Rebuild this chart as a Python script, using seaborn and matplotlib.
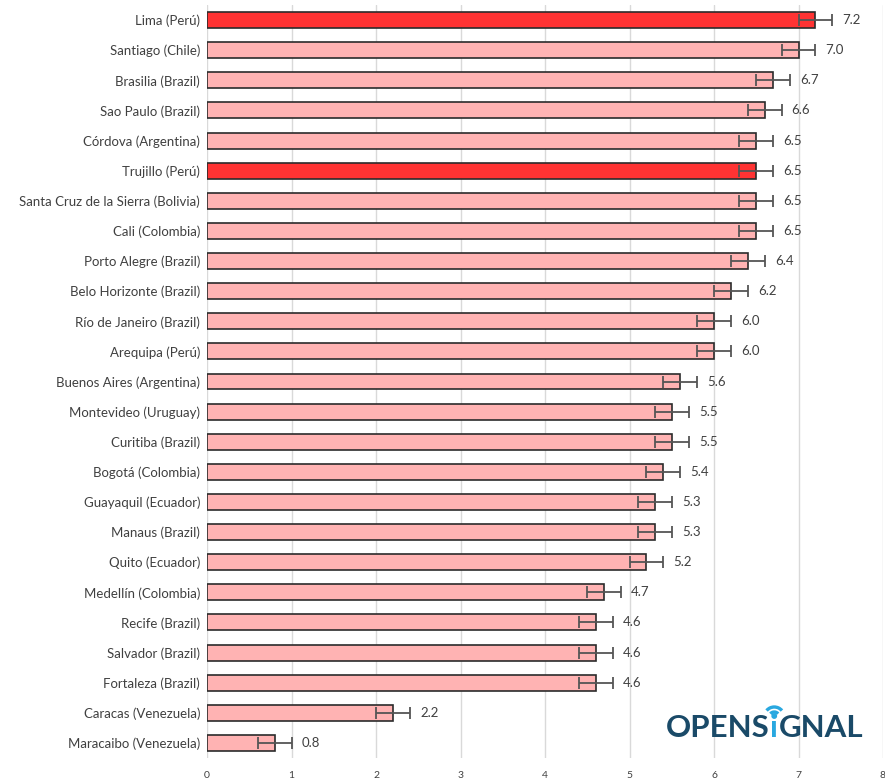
import matplotlib.pyplot as plt
import matplotlib.patches as mpatches
import seaborn as sns
import pandas as pd

cities = ["Lima (Perú)", "Santiago (Chile)", "Brasilia (Brazil)", "Sao Paulo (Brazil)",
          "Córdova (Argentina)", "Trujillo (Perú)", "Santa Cruz de la Sierra (Bolivia)",
          "Cali (Colombia)", "Porto Alegre (Brazil)", "Belo Horizonte (Brazil)",
          "Río de Janeiro (Brazil)", "Arequipa (Perú)", "Buenos Aires (Argentina)",
          "Montevideo (Uruguay)", "Curitiba (Brazil)", "Bogotá (Colombia)",
          "Guayaquil (Ecuador)", "Manaus (Brazil)", "Quito (Ecuador)",
          "Medellín (Colombia)", "Recife (Brazil)", "Salvador (Brazil)",
          "Fortaleza (Brazil)", "Caracas (Venezuela)", "Maracaibo (Venezuela)"]
values = [7.2, 7.0, 6.7, 6.6, 6.5, 6.5, 6.5, 6.5, 6.4, 6.2, 6.0, 6.0, 5.6,
          5.5, 5.5, 5.4, 5.3, 5.3, 5.2, 4.7, 4.6, 4.6, 4.6, 2.2, 0.8]
errors = [0.2] * 25
highlighted = ["Lima (Perú)", "Trujillo (Perú)"]

df = pd.DataFrame({"city": cities, "value": values, "err": errors})

sns.set_style("white")
plt.rcParams['font.family'] = ['Lato', 'DejaVu Sans']

fig = plt.figure(figsize=(8.85, 7.78), dpi=100)
ax = fig.add_axes([207 / 885, 1 - 758 / 778, 676 / 885, 753 / 778])

palette = ["#FF3333" if c in highlighted else "#FFB3B3" for c in df["city"]]
sns.barplot(data=df, x="value", y="city", hue="city", palette=palette,
            saturation=1, legend=False, width=0.53, edgecolor="#2b2b2b",
            linewidth=1.2, ax=ax, zorder=2)
ax.errorbar(df["value"], range(len(df)), xerr=df["err"], fmt="none",
            ecolor="#555555", elinewidth=1.3, capsize=4, capthick=1.3, zorder=3)

for i, (v, e) in enumerate(zip(df["value"], df["err"])):
    ax.text(v + e + 0.12, i, f"{v:.1f}", va="center", ha="left",
            fontsize=9.5, color="#404040")

ax.set_xlim(0, 8)
ax.set_ylim(24.5, -0.5)
ax.set_xticks(range(9))
ax.grid(axis="x", color="#d9d9d9", linewidth=1, zorder=0)
ax.set_axisbelow(True)
for s in ax.spines.values():
    s.set_visible(False)
ax.set_xlabel("")
ax.set_ylabel("")
ax.tick_params(axis="x", labelsize=7.5, colors="#404040", length=0, pad=9)
ax.tick_params(axis="y", labelsize=9.5, colors="#404040", length=0, pad=5)

# OpenSignal logo: pieces laid out one after another
renderer = fig.canvas.get_renderer()
x0, base = 666, 778 - 737
dark, light = "#1a4a68", "#29a8e0"
ipos = None
for part, col in [("OPENS", dark), ("ı", light), ("GNAL", dark)]:
    t = fig.text(x0, base, part, fontsize=22.5, fontweight="bold", color=col,
                 ha="left", va="baseline", transform=None)
    bb = t.get_window_extent(renderer)
    if part == "ı":
        ipos = (bb.x0 + bb.x1) / 2
    x0 = bb.x1 + 0.5
cy = base + 20
for r in [5, 10]:
    fig.add_artist(mpatches.Arc((ipos, cy), 2 * r, 2 * r, theta1=40, theta2=140,
                                transform=None, color=light, linewidth=2.4))
fig.add_artist(mpatches.Circle((ipos, cy + 1), 2.2, transform=None, color=light))

fig.savefig("out.png", dpi=100)
